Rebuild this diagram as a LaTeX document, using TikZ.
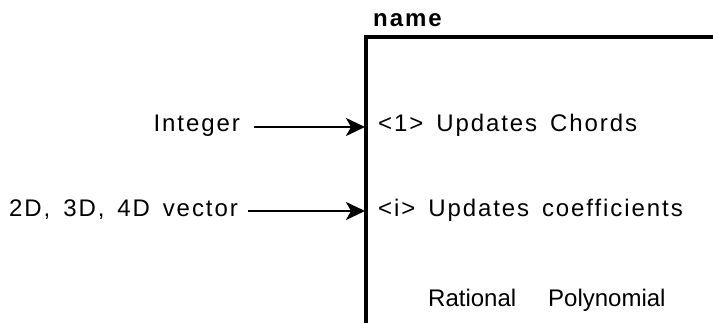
\documentclass[tikz,border=0pt]{standalone}
\usepackage{fontspec}
\newfontfamily\blockfont{Liberation Sans}[LetterSpace=8,WordSpace=1.5]
\newfontfamily\typefont{Liberation Sans}
\usetikzlibrary{arrows.meta}

\begin{document}
\begin{tikzpicture}[x=1pt,y=-1pt,
    every node/.style={font=\blockfont\fontsize{24}{28}\selectfont, inner sep=0pt},
    bar/.style={line width=4pt},
    feed/.style={-{Stealth[length=19pt,width=18pt,inset=5pt]},line width=2.2pt}]
    \useasboundingbox (0,0) rectangle (713,323);
        % Block
        \def\barx{366}
        \def\topy{37}
        \draw[bar] (\barx,323) -- (\barx,\topy) -- (713,\topy);
        \node[anchor=base west,font=\blockfont\bfseries\fontsize{24}{28}\selectfont] (name) at (373,27) {name};

        % Eingaenge
        \node[anchor=base east] (integer) at (240,132) {Integer};
        \node[anchor=base east] (vector) at (238,217) {2D, 3D, 4D vector};
        \coordinate (in1) at (\barx-1,127);
        \coordinate (in2) at (\barx-1,211);
        \draw[feed,shorten <=14pt] (integer.east |- in1) -- (in1);
        \draw[feed,shorten <=10pt] (vector.east |- in2) -- (in2);

        % Beschriftung im Block
        \node[anchor=base west] (chords) at (378,132) {<1> Updates Chords};
        \node[anchor=base west] (coeffs) at (378,217) {<i> Updates coefficients};
        \node[anchor=base west,font=\typefont\fontsize{24}{28}\selectfont] (rational) at (428,307) {Rational};
        \node[anchor=base west,font=\typefont\fontsize{24}{28}\selectfont] (poly) at (548,307) {Polynomial};
\end{tikzpicture}
\end{document}
